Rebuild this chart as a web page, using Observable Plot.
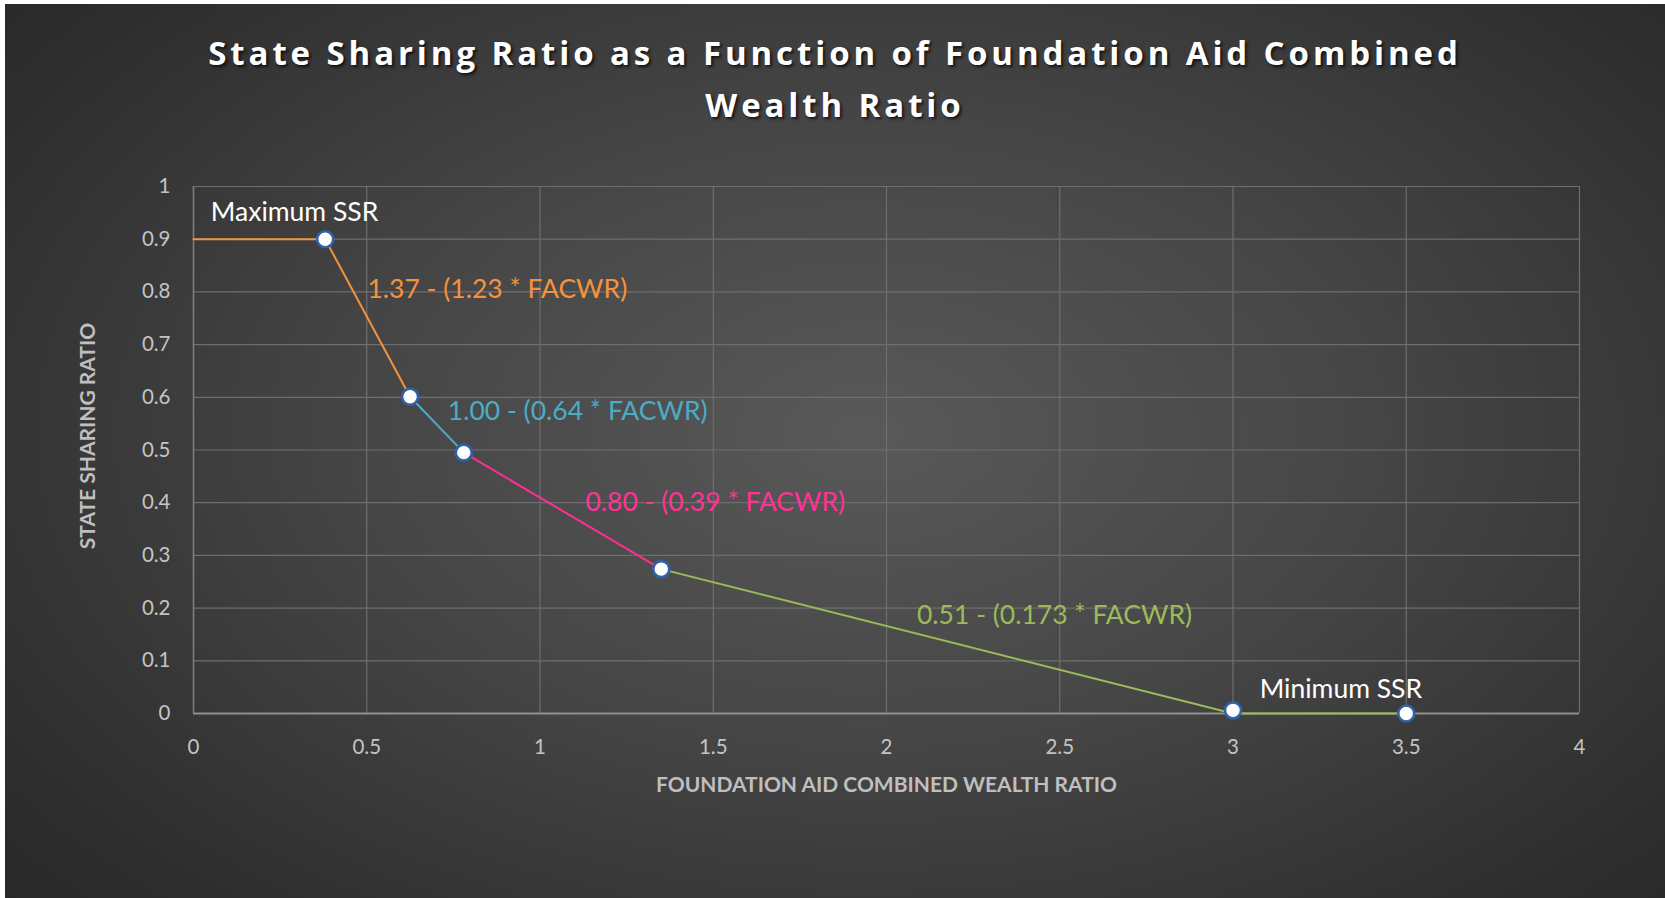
<!DOCTYPE html>
<html>
<head>
<meta charset="utf-8">
<script src="https://cdn.jsdelivr.net/npm/d3@7"></script>
<script src="https://cdn.jsdelivr.net/npm/@observablehq/plot@0.6"></script>
<style>
  html, body { margin: 0; padding: 0; background: #ffffff; }
  #card {
    position: absolute; left: 5px; top: 4px; width: 1660px; height: 894px;
    background: radial-gradient(ellipse 75% 85% at 52% 48%, #595959 0%, #464646 40%, #2e2e2e 80%, #252525 100%);
    overflow: hidden;
  }
  #title {
    position: absolute; left: 0; top: 0; width: 1660px; height: 130px;
    text-align: center; color: #ffffff;
    font-family: "Open Sans", sans-serif; font-weight: 700; font-size: 33px;
    letter-spacing: 3.9px; line-height: 52px; padding-top: 23px; box-sizing: border-box;
    text-shadow: 2px 2px 3px rgba(0,0,0,0.7);
  }
  #chart { position: absolute; left: 0; top: 130px; }
</style>
</head>
<body>
<div id="card">
  <div id="title">State Sharing Ratio as a Function of Foundation Aid Combined<br>Wealth Ratio</div>
  <div id="chart"></div>
</div>
<script>
// ---- data ----
const orangeX = [0, 0.38, 0.625];
const orangeY = [0.9, 0.9, 0.601];
const blueX = [0.625, 0.78];
const blueY = [0.601, 0.495];
const pinkX = [0.78, 1.35];
const pinkY = [0.495, 0.274];
const greenX = [1.35, 3.0, 3.5];
const greenY = [0.274, 0.0, 0.0];

const markerX = [0.38, 0.625, 0.78, 1.35, 3.0, 3.5];
const markerY = [0.9, 0.601, 0.495, 0.274, 0.006, 0.0];

const labelText = ["Maximum SSR", "1.37 - (1.23 * FACWR)", "1.00 - (0.64 * FACWR)", "0.80 - (0.39 * FACWR)", "0.51 - (0.173 * FACWR)", "Minimum SSR"];
const labelX = [0.05, 0.502, 0.734, 1.131, 2.088, 3.077];
const labelY = [0.935, 0.789, 0.556, 0.384, 0.169, 0.029];
const labelColor = ["#ffffff", "#f5923e", "#4bacc6", "#ff3296", "#9bbb59", "#ffffff"];

const xTicks = [0, 0.5, 1, 1.5, 2, 2.5, 3, 3.5, 4];
const yTicks = [0, 0.1, 0.2, 0.3, 0.4, 0.5, 0.6, 0.7, 0.8, 0.9, 1];

const xTitle = "FOUNDATION AID COMBINED WEALTH RATIO";
const yTitle = "STATE SHARING RATIO";

// ---- build tables ----
const toRows = (xs, ys) => xs.map((x, i) => ({x, y: ys[i]}));
const segments = [
  {rows: toRows(orangeX, orangeY), color: "#f5923e"},
  {rows: toRows(blueX, blueY), color: "#4bacc6"},
  {rows: toRows(pinkX, pinkY), color: "#ff2e93"},
  {rows: toRows(greenX, greenY), color: "#9bbb59"}
];
const markers = toRows(markerX, markerY);
const labels = labelText.map((t, i) => ({t, x: labelX[i], y: labelY[i], c: labelColor[i]}));

const font = "Lato, 'Open Sans', sans-serif";

const chart = Plot.plot({
  width: 1660,
  height: 764,
  marginLeft: 188,
  marginRight: 86,
  marginTop: 52,
  marginBottom: 185,
  style: {background: "transparent", fontFamily: font, overflow: "visible"},
  x: {domain: [0, 4]},
  y: {domain: [0, 1]},
  marks: [
    Plot.gridX(xTicks, {stroke: "#6e6e6e", strokeOpacity: 1, strokeWidth: 1.2}),
    Plot.gridY(yTicks, {stroke: "#6e6e6e", strokeOpacity: 1, strokeWidth: 1.2}),
    Plot.ruleY([0], {stroke: "#909090", strokeWidth: 1.8}),
    Plot.ruleX([0], {stroke: "#7c7c7c", strokeWidth: 1.5}),
    Plot.axisX({ticks: xTicks, tickSize: 0, tickPadding: 26, fontSize: 20.5, fill: "#c4c4c4", label: null, tickFormat: d => String(d)}),
    Plot.axisY({ticks: yTicks, tickSize: 0, tickPadding: 23, fontSize: 20.5, fill: "#c4c4c4", label: null, tickFormat: d => String(d)}),
    ...segments.map(s => Plot.line(s.rows, {x: "x", y: "y", stroke: s.color, strokeWidth: 2})),
    Plot.dot(markers, {x: "x", y: "y", r: 8, fill: "#ffffff", stroke: "#2f62a6", strokeWidth: 2.6}),
    Plot.text(labels, {x: "x", y: "y", text: "t", fill: "c", textAnchor: "start", lineAnchor: "bottom", fontSize: 26.5}),
    Plot.text([xTitle], {text: d => d, frameAnchor: "bottom", lineAnchor: "bottom", dy: 78, fontSize: 21, fontWeight: "bold", fill: "#bfbfbf"}),
    Plot.text([yTitle], {text: d => d, frameAnchor: "left", textAnchor: "middle", rotate: -90, dx: -105, dy: -14, fontSize: 21, fontWeight: "bold", fill: "#bfbfbf"})
  ]
});
document.getElementById("chart").appendChild(chart);
</script>
</body>
</html>
